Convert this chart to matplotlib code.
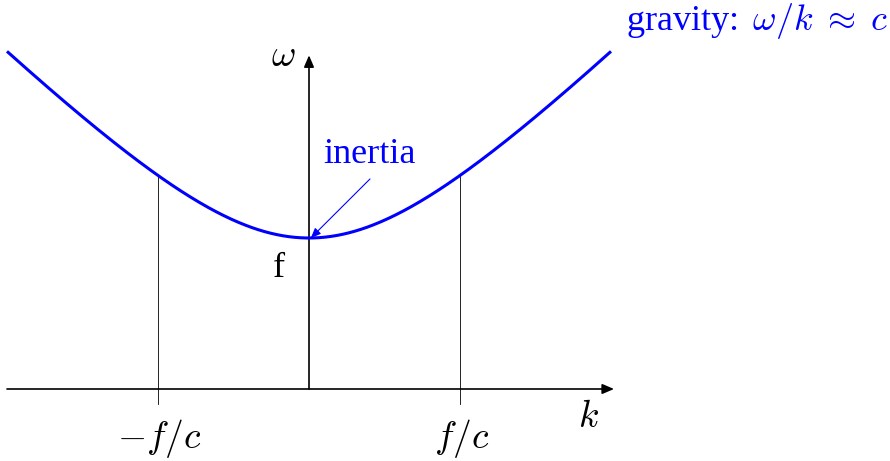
import numpy as np
import matplotlib
matplotlib.use("Agg")
import matplotlib.pyplot as plt
from matplotlib.patches import FancyArrowPatch

plt.rcParams['mathtext.fontset'] = 'cm'
plt.rcParams['font.family'] = ['Liberation Serif', 'DejaVu Serif']

# Dispersion relation parameters (nondimensional)
f = 1.0
c = 1.0
k_min, k_max = -2.0, 2.0
tick_k = [-f / c, f / c]
tick_labels = [r'$-f/c$', r'$f/c$']
omega_axis_top = 2.21

k = np.linspace(k_min, k_max, 400)
omega = np.sqrt(f**2 + (c * k)**2)

fig = plt.figure(figsize=(8.9, 4.61), dpi=100)
ax = fig.add_axes([0, 0, 1, 1])
ax.set_xlim(-309 / 151, (890 - 309) / 151)
ax.set_ylim((389 - 461) / 151, 389 / 151)
ax.axis('off')

blue = '#0000ff'
math_size = 27
text_size = 26

# axes with arrow heads
ax.annotate('', xy=(k_max + 0.02, 0), xytext=(k_min, 0),
            arrowprops=dict(arrowstyle='-|>,head_length=0.7,head_width=0.3',
                            color='black', lw=1.2, shrinkA=0, shrinkB=0))
ax.annotate('', xy=(0, omega_axis_top), xytext=(0, 0),
            arrowprops=dict(arrowstyle='-|>,head_length=0.7,head_width=0.3',
                            color='black', lw=1.2, shrinkA=0, shrinkB=0))

# thin guide lines at k = ±f/c
for kt in tick_k:
    w = np.sqrt(f**2 + (c * kt)**2)
    ax.plot([kt, kt], [-0.1, w], color='black', lw=0.6, zorder=1)

ax.plot(k, omega, color=blue, lw=2.2, zorder=3, solid_capstyle='butt')

for kt, lab in zip(tick_k, tick_labels):
    ax.text(kt + 0.01, -0.33, lab, ha='center', va='center', fontsize=math_size)

ax.text(1.85, -0.19, r'$k$', ha='center', va='center', fontsize=math_size)
ax.text(-0.17, 2.2, r'$\omega$', ha='center', va='center', fontsize=math_size)
ax.text(-0.2, 0.8, 'f', ha='center', va='center', fontsize=text_size)

# inertial limit label with pointer to the curve minimum
ax.text(0.4, 1.555, 'inertia', ha='center', va='center',
        fontsize=text_size, color=blue)
ax.add_patch(FancyArrowPatch((0.404, 1.391), (0.012, f),
                             arrowstyle='-|>,head_length=6,head_width=2.5',
                             color=blue, lw=0.8, shrinkA=0, shrinkB=0,
                             zorder=4))

ax.text(2.1, 2.44, r'gravity: $\,\omega/k\;\approx\;c$', ha='left', va='center',
        fontsize=text_size, color=blue)

fig.savefig('out.png', dpi=100)
